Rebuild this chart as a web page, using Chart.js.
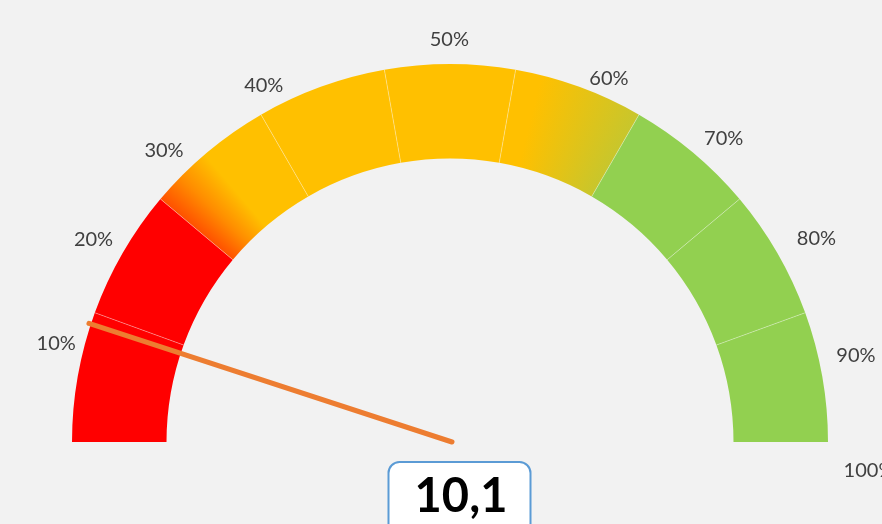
<!DOCTYPE html>
<html>
<head>
<meta charset="utf-8">
<script src="https://cdn.jsdelivr.net/npm/chart.js@4.4.1/dist/chart.umd.min.js"></script>
<style>
  html, body { margin: 0; padding: 0; background: #f2f2f2; overflow: hidden; }
  canvas { display: block; }
</style>
</head>
<body>
<canvas id="gauge" width="882" height="524"></canvas>
<script>
// ---- data ----
const bandNames = ['Band 1', 'Band 2', 'Band 3', 'Band 4', 'Band 5', 'Band 6', 'Band 7', 'Band 8', 'Band 9'];
const bandSizes = [1, 1, 1, 1, 1, 1, 1, 1, 1];
const tickLabels = ['10%', '20%', '30%', '40%', '50%', '60%', '70%', '80%', '90%', '100%'];
const needleValue = 10.1;      // percent of the half circle
const needleMax = 100;

// ---- style / layout ----
const bandColors = ['#ff0000', '#ff0000', 'grad-red-yellow', '#ffc000', '#ffc000', 'grad-yellow-green', '#92d050', '#92d050', '#92d050'];
const tickAngleDeg = [14.1, 29.6, 45.5, 62.4, 89.9, 113.6, 132.0, 151.0, 168.0, 183.9];
const tickGap = [28, 32, 30, 24, 24.5, 19, 31, 41, 37, 42];

function bandColor(ctx) {
  const chart = ctx.chart;
  const area = chart.chartArea;
  const c = bandColors[ctx.dataIndex];
  if (!c.startsWith('grad')) return c;
  if (!area) return '#ffc000';
  const cx = (area.left + area.right) / 2;
  const cy = area.bottom;
  const g = chart.ctx.createConicGradient(Math.PI, cx, cy);
  if (c === 'grad-red-yellow') {
    g.addColorStop(0, '#ff5000');
    g.addColorStop(40 / 360, '#ff5000');
    g.addColorStop(44.5 / 360, '#ff8c00');
    g.addColorStop(49.5 / 360, '#ffc000');
    g.addColorStop(1, '#ffc000');
  } else {
    g.addColorStop(0, '#ffc000');
    g.addColorStop(104 / 360, '#ffc000');
    g.addColorStop(120 / 360, '#c8c62c');
    g.addColorStop(1, '#c8c62c');
  }
  return g;
}

const gaugeDecor = {
  id: 'gaugeDecor',
  afterDatasetsDraw(chart) {
    const ctx = chart.ctx;
    const meta = chart.getDatasetMeta(0);
    const a0 = meta.data[0];
    const cx = a0.x, cy = a0.y, R = a0.outerRadius, r = a0.innerRadius;

    // thin separators
    ctx.save();
    ctx.strokeStyle = 'rgba(255,255,255,0.35)';
    ctx.lineWidth = 1;
    meta.data.forEach((arc, i) => {
      if (i === 0) return;
      const a = arc.startAngle;
      ctx.beginPath();
      ctx.moveTo(cx + r * Math.cos(a), cy + r * Math.sin(a));
      ctx.lineTo(cx + R * Math.cos(a), cy + R * Math.sin(a));
      ctx.stroke();
    });
    ctx.restore();

    // tick labels
    ctx.save();
    ctx.font = '20px Lato, "Open Sans", sans-serif';
    ctx.fillStyle = '#404040';
    ctx.textAlign = 'center';
    ctx.textBaseline = 'middle';
    tickLabels.forEach((t, i) => {
      const a = Math.PI + tickAngleDeg[i] * Math.PI / 180;
      const rr = R + tickGap[i];
      ctx.fillText(t, cx + rr * Math.cos(a), cy + rr * Math.sin(a));
    });
    ctx.restore();

    // needle
    const na = Math.PI + (needleValue / needleMax) * Math.PI;
    ctx.save();
    ctx.strokeStyle = '#ed7d31';
    ctx.lineWidth = 5;
    ctx.lineCap = 'round';
    ctx.beginPath();
    ctx.moveTo(cx + 2, cy);
    ctx.lineTo(cx + (R + 2) * Math.cos(na), cy + (R + 2) * Math.sin(na));
    ctx.stroke();
    ctx.restore();

    // value box
    const bx = cx - 61.5, by = cy + 20, bw = 142, bh = 80, br = 11;
    ctx.save();
    ctx.beginPath();
    ctx.roundRect(bx, by, bw, bh, br);
    ctx.fillStyle = '#ffffff';
    ctx.fill();
    ctx.lineWidth = 2;
    ctx.strokeStyle = '#5b9bd5';
    ctx.stroke();
    ctx.font = 'bold 47px Lato, "Open Sans", sans-serif';
    ctx.fillStyle = '#000000';
    ctx.textAlign = 'center';
    ctx.textBaseline = 'middle';
    ctx.fillText(String(needleValue).replace('.', ','), cx + 11, cy + 55);
    ctx.restore();
  }
};

new Chart(document.getElementById('gauge'), {
  type: 'doughnut',
  data: {
    labels: bandNames,
    datasets: [{
      data: bandSizes,
      backgroundColor: bandColor,
      borderWidth: 0,
      hoverOffset: 0
    }]
  },
  options: {
    responsive: false,
    devicePixelRatio: 1,
    animation: false,
    rotation: -90,
    circumference: 180,
    cutout: '75%',
    layout: { padding: { left: 72, right: 54, top: 64, bottom: 82 } },
    plugins: {
      legend: { display: false },
      tooltip: { enabled: false },
      title: { display: false }
    },
    events: []
  },
  plugins: [gaugeDecor]
});
</script>
</body>
</html>
